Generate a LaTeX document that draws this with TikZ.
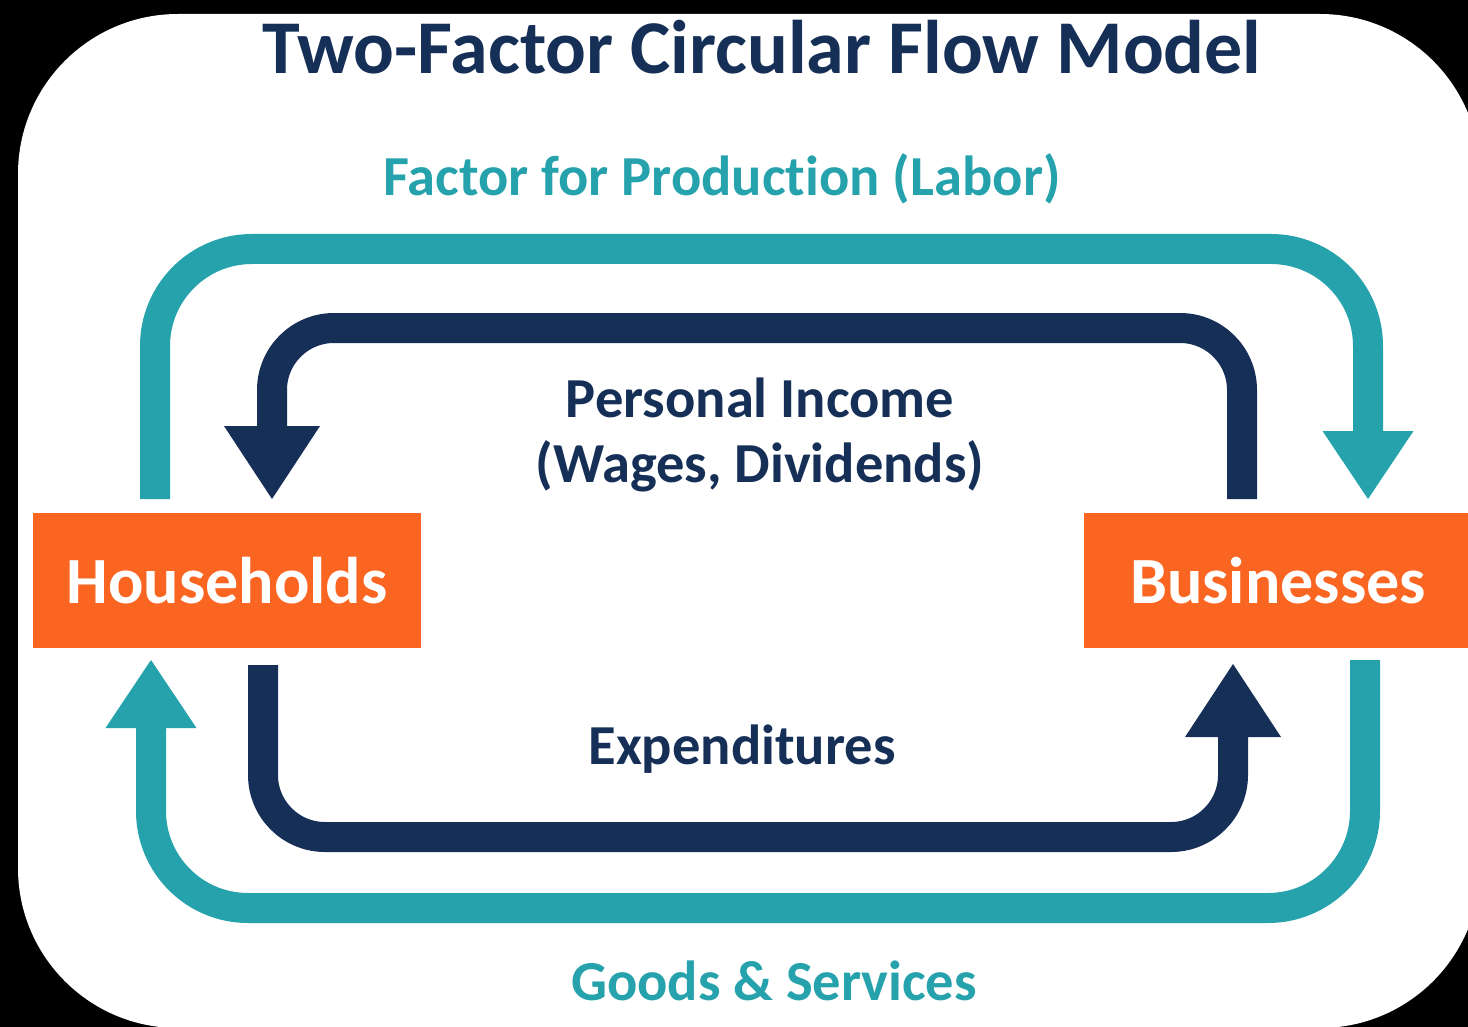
\documentclass[tikz,border=0pt]{standalone}
\usepackage{fontspec}
\setmainfont{Carlito}[Ligatures=NoCommon]
\usetikzlibrary{arrows.meta}

\definecolor{flowteal}{HTML}{26A2AD}
\definecolor{flownavy}{HTML}{152F57}
\definecolor{boxorange}{HTML}{FA6522}

\tikzset{
  sector/.style={fill=boxorange, text=white, inner sep=0pt,
    minimum width=388pt, minimum height=135pt,
    font=\fontsize{66}{66}\selectfont\bfseries},
  tealflow/.style={flowteal, line width=30pt, rounded corners=97pt,
    -{Triangle[length=68pt,width=91pt,line width=0pt]}},
  navyflow/.style={flownavy, line width=30pt, rounded corners=62pt,
    -{Triangle[length=73pt,width=96pt,line width=0pt]}},
  flowlabel/.style={anchor=base, font=\fontsize{56.5}{56.5}\selectfont\bfseries},
}

\begin{document}
\begin{tikzpicture}[x=1pt,y=-1pt]
	\useasboundingbox (0,0) rectangle (1468,1027);
	\fill[black] (0,0) rectangle (1468,1027);
	\fill[white,rounded corners=160pt] (18,14) rectangle (1480,1028);
	
	% title and labels
	\node[anchor=base,flownavy,font=\fontsize{76}{76}\selectfont\bfseries] (title) at (762,74) {Two-Factor Circular Flow Model};
	\node[flowlabel,flowteal] (labor) at (722,196) {Factor for Production (Labor)};
	\node[flowlabel,flownavy] (income) at (760,417) {Personal Income};
	\node[flowlabel,flownavy] (wages) at (760,482) {(Wages, Dividends)};
	\node[flowlabel,flownavy] (spend) at (742,764) {Expenditures};
	\node[flowlabel,flowteal] (goods) at (774,1000) {Goods \& Services};
	
	% sectors
	\node[sector] (house) at (227,580.5) {Households};
	\node[sector] (biz) at (1278,580.5) {Businesses};
	
	% free ends of the flows
	\coordinate (laborOut) at (155,499);
	\coordinate (laborIn) at (1368,499);
	\coordinate (incomeOut) at (1242,499);
	\coordinate (incomeIn) at (272,499);
	\coordinate (spendOut) at (263,665);
	\coordinate (spendIn) at (1233,664);
	\coordinate (goodsOut) at (1365,660);
	\coordinate (goodsIn) at (151,660);
	
	\draw[tealflow] (laborOut) -- (155,249) -- (1368,249) -- (laborIn);
	\draw[navyflow] (incomeOut) -- (1242,328) -- (272,328) -- (incomeIn);
	\draw[navyflow] (spendOut) -- (263,837) -- (1233,837) -- (spendIn);
	\draw[tealflow] (goodsOut) -- (1365,908) -- (151,908) -- (goodsIn);
\end{tikzpicture}
\end{document}
